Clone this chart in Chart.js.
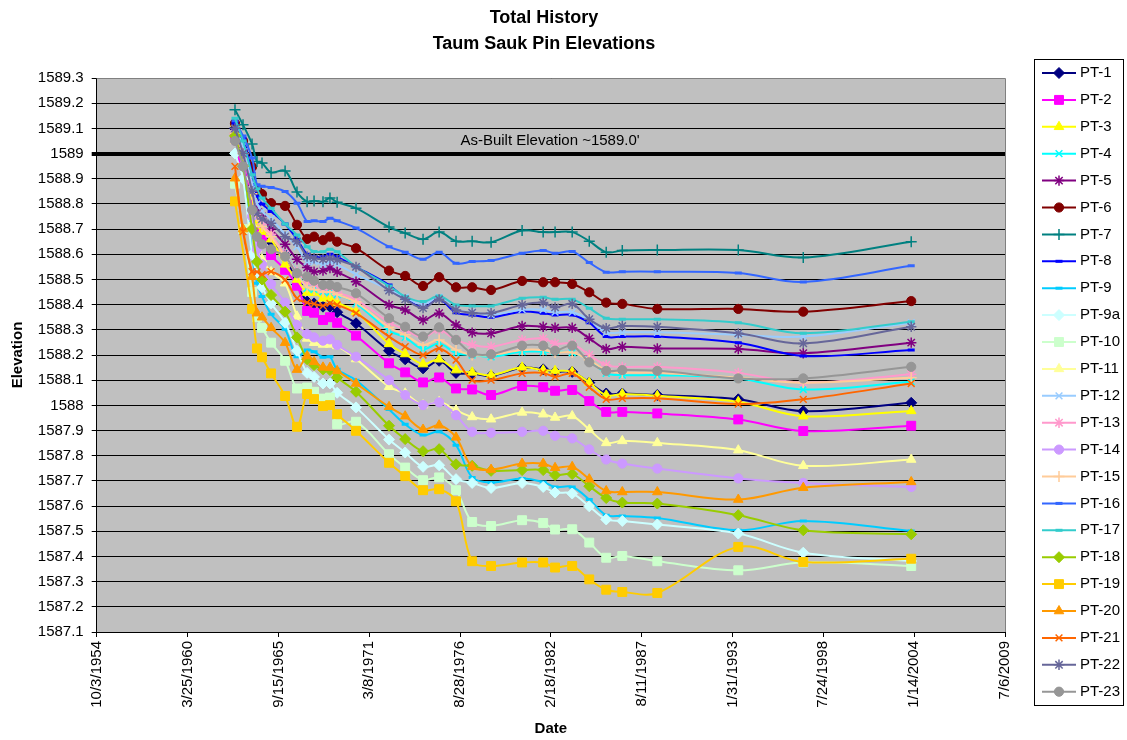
<!DOCTYPE html>
<html><head><meta charset="utf-8">
<script src="https://cdn.jsdelivr.net/npm/chart.js@4.4.0/dist/chart.umd.min.js"></script>
<style>html,body{margin:0;padding:0;background:#fff;}#wrap{width:1127px;height:740px;}</style>
</head><body><div id="wrap"><canvas id="c" width="1127" height="740"></canvas></div>
<script>
const chartTitle = ['Total History', 'Taum Sauk Pin Elevations'];
const xTickLabels = ['10/3/1954','3/25/1960','9/15/1965','3/8/1971','8/28/1976','2/18/1982','8/11/1987','1/31/1993','7/24/1998','1/14/2004','7/6/2009'];
const surveyDates = ['2/3/1963','7/30/1963','2/14/1964','6/2/1964','9/20/1964','4/8/1965','2/10/1966','10/30/1966','6/10/1967','11/10/1967','5/25/1968','10/25/1968','4/1/1969','5/22/1970','5/18/1972','5/8/1973','6/6/1974','5/26/1975','6/1/1976','5/22/1977','7/13/1978','5/26/1980','9/2/1981','5/22/1982','6/3/1983','6/13/1984','6/21/1985','6/10/1986','7/20/1988','6/7/1993','5/8/1997','11/10/2003'];
const seriesNames = ['PT-1','PT-2','PT-3','PT-4','PT-5','PT-6','PT-7','PT-8','PT-9','PT-9a','PT-10','PT-11','PT-12','PT-13','PT-14','PT-15','PT-16','PT-17','PT-18','PT-19','PT-20','PT-21','PT-22','PT-23'];
const asBuilt = {value: 1589.0, label: "As-Built Elevation ~1589.0'", labelX: 29982, labelY: 1589.05};

const pt1 = [1589.10,1589.03,1588.776,1588.70,1588.68,1588.650,1588.597,1588.48,1588.412,1588.405,1588.392,1588.392,1588.370,1588.326,1588.217,1588.183,1588.147,1588.177,1588.129,1588.127,1588.117,1588.149,1588.143,1588.133,1588.133,1588.090,1588.047,1588.047,1588.041,1588.024,1587.977,1588.010];
const pt2 = [1589.06,1588.97,1588.803,1588.690,1588.66,1588.597,1588.538,1588.475,1588.375,1588.368,1588.339,1588.350,1588.328,1588.277,1588.167,1588.131,1588.091,1588.111,1588.067,1588.063,1588.041,1588.077,1588.072,1588.058,1588.061,1588.017,1587.974,1587.974,1587.968,1587.944,1587.898,1587.919];
const pt3 = [1589.12,1589.04,1588.83,1588.72,1588.69,1588.66,1588.56,1588.50,1588.448,1588.448,1588.425,1588.425,1588.408,1588.372,1588.244,1588.204,1588.164,1588.183,1588.140,1588.131,1588.120,1588.151,1588.140,1588.137,1588.133,1588.090,1588.040,1588.045,1588.038,1588.014,1587.957,1587.978];
const pt4 = [1589.10,1589.00,1588.85,1588.76,1588.72,1588.68,1588.60,1588.53,1588.465,1588.46,1588.452,1588.448,1588.44,1588.405,1588.296,1588.270,1588.223,1588.246,1588.207,1588.20,1588.193,1588.213,1588.213,1588.213,1588.209,1588.180,1588.127,1588.120,1588.120,1588.107,1588.063,1588.094];
const pt5 = [1589.08,1589.00,1588.86,1588.78,1588.75,1588.70,1588.64,1588.58,1588.547,1588.531,1588.535,1588.545,1588.53,1588.491,1588.399,1588.379,1588.339,1588.366,1588.319,1588.289,1588.286,1588.315,1588.312,1588.308,1588.308,1588.266,1588.224,1588.233,1588.226,1588.224,1588.207,1588.249];
const pt6 = [1589.12,1589.05,1588.947,1588.859,1588.839,1588.803,1588.792,1588.717,1588.661,1588.670,1588.656,1588.670,1588.650,1588.624,1588.535,1588.514,1588.474,1588.509,1588.469,1588.469,1588.458,1588.494,1588.489,1588.489,1588.482,1588.449,1588.408,1588.403,1588.383,1588.383,1588.372,1588.414];
const pt7 = [1589.174,1589.114,1589.038,1588.968,1588.962,1588.925,1588.931,1588.847,1588.809,1588.812,1588.809,1588.823,1588.807,1588.783,1588.708,1588.684,1588.660,1588.688,1588.652,1588.652,1588.648,1588.694,1588.688,1588.688,1588.688,1588.652,1588.608,1588.615,1588.617,1588.617,1588.587,1588.650];
const pt8 = [1589.12,1589.06,1588.92,1588.83,1588.80,1588.77,1588.72,1588.66,1588.60,1588.59,1588.59,1588.60,1588.59,1588.55,1588.478,1588.425,1588.389,1588.421,1588.368,1588.359,1588.350,1588.372,1588.366,1588.359,1588.359,1588.328,1588.273,1588.273,1588.273,1588.249,1588.196,1588.220];
const pt9 = [1589.05,1588.95,1588.60,1588.485,1588.432,1588.362,1588.302,1588.193,1588.220,1588.213,1588.191,1588.193,1588.143,1588.100,1587.984,1587.925,1587.882,1587.895,1587.842,1587.714,1587.694,1587.710,1587.696,1587.676,1587.676,1587.626,1587.564,1587.561,1587.553,1587.504,1587.541,1587.501];
const pt9a = [1589.00,1588.90,1588.60,1588.52,1588.469,1588.405,1588.328,1588.217,1588.129,1588.113,1588.087,1588.087,1588.050,1587.992,1587.864,1587.813,1587.756,1587.762,1587.707,1587.692,1587.672,1587.692,1587.676,1587.654,1587.650,1587.599,1587.547,1587.541,1587.527,1587.491,1587.415,1587.382];
const pt10 = [1588.88,1588.70,1588.45,1588.35,1588.308,1588.249,1588.177,1588.067,1588.071,1588.054,1588.027,1588.031,1587.925,1587.935,1587.806,1587.753,1587.703,1587.714,1587.663,1587.537,1587.521,1587.544,1587.533,1587.507,1587.508,1587.455,1587.395,1587.402,1587.381,1587.345,1587.376,1587.362];
const pt11 = [1589.05,1588.95,1588.72,1588.62,1588.58,1588.53,1588.485,1588.354,1588.266,1588.249,1588.242,1588.242,1588.236,1588.184,1588.074,1588.048,1588.001,1588.014,1587.981,1587.954,1587.945,1587.972,1587.965,1587.952,1587.958,1587.904,1587.851,1587.859,1587.851,1587.822,1587.760,1587.785];
const pt12 = [1589.10,1589.03,1588.88,1588.80,1588.77,1588.74,1588.68,1588.63,1588.57,1588.57,1588.56,1588.57,1588.56,1588.52,1588.46,1588.43,1588.40,1588.43,1588.38,1588.37,1588.36,1588.38,1588.38,1588.37,1588.37,1588.34,1588.29,1588.29,1588.29,1588.28,1588.273,1588.328];
const pt13 = [1589.08,1589.00,1588.85,1588.76,1588.72,1588.68,1588.60,1588.53,1588.49,1588.48,1588.46,1588.47,1588.45,1588.42,1588.33,1588.30,1588.27,1588.30,1588.26,1588.240,1588.233,1588.260,1588.266,1588.246,1588.244,1588.200,1588.160,1588.153,1588.153,1588.129,1588.090,1588.124];
const pt14 = [1589.05,1588.95,1588.75,1588.62,1588.56,1588.482,1588.408,1588.319,1588.283,1588.270,1588.257,1588.262,1588.240,1588.193,1588.100,1588.041,1588.001,1588.012,1587.961,1587.895,1587.891,1587.895,1587.899,1587.879,1587.869,1587.825,1587.785,1587.769,1587.749,1587.710,1587.692,1587.676];
const pt15 = [1589.08,1589.00,1588.84,1588.75,1588.71,1588.67,1588.59,1588.52,1588.47,1588.46,1588.45,1588.45,1588.44,1588.41,1588.31,1588.28,1588.24,1588.26,1588.22,1588.20,1588.20,1588.22,1588.22,1588.21,1588.21,1588.18,1588.14,1588.13,1588.13,1588.11,1588.09,1588.11];
const pt16 = [1589.13,1589.07,1588.982,1588.876,1588.87,1588.865,1588.849,1588.803,1588.730,1588.733,1588.730,1588.743,1588.733,1588.704,1588.630,1588.608,1588.580,1588.608,1588.564,1588.571,1588.575,1588.604,1588.615,1588.604,1588.611,1588.567,1588.529,1588.531,1588.531,1588.526,1588.490,1588.554];
const pt17 = [1589.14,1589.05,1588.916,1588.86,1588.823,1588.783,1588.72,1588.677,1588.63,1588.611,1588.61,1588.62,1588.61,1588.551,1588.474,1588.432,1588.412,1588.434,1588.399,1588.395,1588.395,1588.425,1588.429,1588.421,1588.421,1588.386,1588.346,1588.342,1588.342,1588.328,1588.286,1588.332];
const pt18 = [1589.07,1588.95,1588.70,1588.57,1588.50,1588.438,1588.372,1588.270,1588.183,1588.16,1588.143,1588.140,1588.111,1588.054,1587.919,1587.866,1587.818,1587.826,1587.766,1587.760,1587.740,1587.743,1587.743,1587.723,1587.727,1587.679,1587.632,1587.614,1587.610,1587.564,1587.504,1587.488];
const pt19 = [1588.81,null,1588.383,1588.226,1588.191,1588.127,1588.037,1587.915,1588.045,1588.025,1587.997,1588.001,1587.965,1587.899,1587.772,1587.719,1587.663,1587.667,1587.619,1587.381,1587.362,1587.376,1587.376,1587.356,1587.362,1587.309,1587.268,1587.259,1587.255,1587.438,1587.378,1587.391];
const pt20 = [1588.902,1588.70,1588.511,1588.366,1588.350,1588.308,1588.249,1588.142,1588.196,1588.173,1588.151,1588.15,1588.137,1588.087,1587.994,1587.957,1587.904,1587.921,1587.873,1587.756,1587.745,1587.769,1587.769,1587.752,1587.756,1587.707,1587.660,1587.656,1587.656,1587.626,1587.673,1587.696];
const pt21 = [1588.949,1588.690,1588.531,1588.53,1588.52,1588.531,1588.498,1588.425,1588.408,1588.403,1588.395,1588.405,1588.399,1588.366,1588.273,1588.233,1588.200,1588.226,1588.180,1588.100,1588.100,1588.127,1588.129,1588.113,1588.127,1588.072,1588.024,1588.028,1588.028,1588.005,1588.024,1588.087];
const pt22 = [1589.10,1589.00,1588.85,1588.763,1588.74,1588.723,1588.670,1588.650,1588.591,1588.584,1588.58,1588.584,1588.578,1588.55,1588.456,1588.421,1588.386,1588.421,1588.379,1588.368,1588.366,1588.399,1588.408,1588.389,1588.403,1588.342,1588.306,1588.315,1588.312,1588.286,1588.246,1588.312];
const pt23 = [1589.05,1588.949,1588.776,1588.670,1588.64,1588.62,1588.591,1588.525,1588.511,1588.495,1588.478,1588.478,1588.47,1588.445,1588.346,1588.312,1588.273,1588.310,1588.260,1588.207,1588.203,1588.237,1588.237,1588.217,1588.237,1588.171,1588.137,1588.140,1588.137,1588.107,1588.107,1588.153];

const seriesValues = [pt1,pt2,pt3,pt4,pt5,pt6,pt7,pt8,pt9,pt9a,pt10,pt11,pt12,pt13,pt14,pt15,pt16,pt17,pt18,pt19,pt20,pt21,pt22,pt23];
const seriesColors = ['#000080','#FF00FF','#FFFF00','#00FFFF','#800080','#800000','#008080','#0000FF','#00CCFF','#CCFFFF','#CCFFCC','#FFFF99','#99CCFF','#FF99CC','#CC99FF','#FFCC99','#3366FF','#33CCCC','#99CC00','#FFCC00','#FF9900','#FF6600','#666699','#969696'];
const seriesMarkers = ['rectRot','rect','triangle','crossRot','star','circle','cross','line','line','rectRot','rect','triangle','crossRot','star','circle','cross','line','line','rectRot','rect','triangle','crossRot','star','circle'];

function toSerial(s){const p=s.split('/').map(Number);return (Date.UTC(p[2],p[0]-1,p[1])-Date.UTC(1899,11,30))/86400000;}
const xs = surveyDates.map(toSerial);

const markerRadius = {rectRot:5.5,rect:6.3,triangle:5.5,crossRot:4.8,star:5.2,circle:4.6,cross:5.5,line:3.5};
const markerBorder = {rectRot:1,rect:1,triangle:1,crossRot:1.5,star:1.5,circle:1,cross:1.5,line:3};

const datasets = seriesNames.map((name,i)=>({
  label: name,
  data: seriesValues[i].map((v,j)=>({x: xs[j], y: v})),
  borderColor: seriesColors[i],
  backgroundColor: seriesColors[i],
  pointBackgroundColor: seriesColors[i],
  pointBorderColor: seriesColors[i],
  pointStyle: seriesMarkers[i],
  pointRadius: markerRadius[seriesMarkers[i]],
  pointBorderWidth: markerBorder[seriesMarkers[i]],
  borderWidth: 2,
  tension: 0.35,
  spanGaps: true,
  order: seriesNames.length - i
}));

const FONT = "'Liberation Sans', Arial, sans-serif";

const decor = {
  id: 'decor',
  beforeDraw(chart){
    const {ctx, chartArea:a} = chart;
    ctx.save();
    ctx.fillStyle = '#C0C0C0';
    ctx.fillRect(a.left, a.top, a.right-a.left, a.bottom-a.top);
    ctx.restore();
  },
  beforeDatasetsDraw(chart){
    const {ctx, chartArea:a, scales} = chart;
    ctx.save();
    ctx.strokeStyle = '#808080'; ctx.lineWidth = 1;
    ctx.beginPath();
    ctx.moveTo(a.left, Math.round(a.top)+0.5); ctx.lineTo(Math.round(a.right)+0.5, Math.round(a.top)+0.5);
    ctx.lineTo(Math.round(a.right)+0.5, a.bottom);
    ctx.stroke();
    ctx.fillStyle = '#000';
    ctx.font = '15px ' + FONT;
    ctx.textAlign = 'center'; ctx.textBaseline = 'middle';
    ctx.fillText(asBuilt.label, scales.x.getPixelForValue(asBuilt.labelX), scales.y.getPixelForValue(asBuilt.labelY));
    ctx.restore();
  },
  afterDraw(chart){
    const {ctx} = chart;
    ctx.save();
    ctx.fillStyle = '#000';
    ctx.font = 'bold 18px ' + FONT;
    ctx.textAlign = 'center'; ctx.textBaseline = 'middle';
    ctx.fillText(chartTitle[0], 544, 18);
    ctx.fillText(chartTitle[1], 544, 44);
    const bx = 1034.5, by = 59.5, bw = 89, bh = 646;
    ctx.fillStyle = '#fff'; ctx.fillRect(bx, by, bw, bh);
    ctx.strokeStyle = '#000'; ctx.lineWidth = 1; ctx.strokeRect(bx, by, bw, bh);
    chart.data.datasets.forEach((ds, i) => {
      const y = 73 + i * 26.9;
      ctx.strokeStyle = ds.borderColor; ctx.lineWidth = 2;
      ctx.beginPath(); ctx.moveTo(1042, y); ctx.lineTo(1076, y); ctx.stroke();
      ctx.fillStyle = ds.pointBackgroundColor; ctx.strokeStyle = ds.pointBorderColor;
      ctx.lineWidth = ds.pointBorderWidth;
      Chart.helpers.drawPoint(ctx, {pointStyle: ds.pointStyle, radius: ds.pointRadius, rotation: 0, borderWidth: ds.pointBorderWidth}, 1059, y);
      ctx.fillStyle = '#000'; ctx.font = '15px ' + FONT;
      ctx.textAlign = 'left'; ctx.textBaseline = 'middle';
      ctx.fillText(ds.label, 1080, y);
    });
    ctx.restore();
  }
};

new Chart(document.getElementById('c'), {
  type: 'line',
  data: { datasets },
  plugins: [decor],
  options: {
    responsive: false, animation: false, devicePixelRatio: 1,
    layout: { padding: { left: 0, right: 122, top: 78, bottom: 0 } },
    plugins: { legend: { display: false }, title: { display: false }, tooltip: { enabled: false } },
    scales: {
      x: {
        type: 'linear', min: 20000, max: 40000,
        afterFit(s){ s.height = 108; },
        ticks: {
          stepSize: 2000, autoSkip: false, maxRotation: 90, minRotation: 90, padding: 4,
          color: '#000', font: { family: FONT, size: 15 },
          callback: (v) => xTickLabels[Math.round((v - 20000) / 2000)]
        },
        grid: { display: true, drawOnChartArea: false, drawTicks: true, tickLength: 5, color: '#000' },
        border: { color: '#000', width: 1 },
        title: { display: true, text: 'Date', color: '#000', font: { family: FONT, size: 15, weight: 'bold' }, padding: { top: 0, bottom: 2 } }
      },
      y: {
        type: 'linear', min: 1587.1, max: 1589.3,
        afterFit(s){ s.width = 96.7; },
        ticks: {
          stepSize: 0.1, padding: 8, color: '#000', font: { family: FONT, size: 15 },
          callback: (v) => String(Number(v.toFixed(1)))
        },
        grid: {
          color: '#000', tickLength: 5,
          lineWidth: (c) => (c.tick && Math.abs(c.tick.value - asBuilt.value) < 1e-6) ? 4 : 1
        },
        border: { color: '#000', width: 1 },
        title: { display: true, text: 'Elevation', color: '#000', font: { family: FONT, size: 15, weight: 'bold' }, padding: { top: 9, bottom: 0 } }
      }
    }
  }
});
</script></body></html>
